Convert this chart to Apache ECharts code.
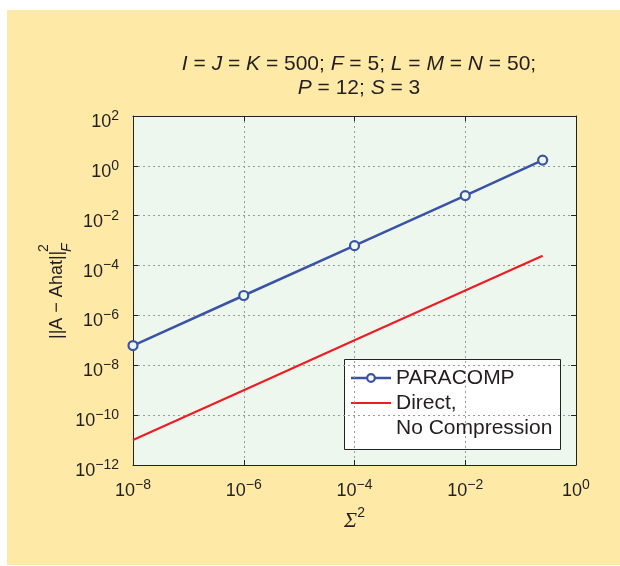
<!DOCTYPE html>
<html>
<head>
<meta charset="utf-8">
<script src="https://cdn.jsdelivr.net/npm/echarts@6/dist/echarts.min.js"></script>
<style>
  html, body { margin: 0; padding: 0; background: #ffffff; }
  #wrap { position: relative; width: 620px; height: 566px; }
  #panel { position: absolute; left: 7px; top: 10px; width: 613px; height: 555px; background: #ffe9a6; }
  #chart { position: absolute; left: 0; top: 0; width: 620px; height: 566px; }
</style>
</head>
<body>
<div id="wrap">
  <div id="panel"></div>
  <div id="chart"></div>
</div>
<script>
// Noise power Σ² (x) and squared Frobenius error of the estimated A (y)
const sigma2 = [1e-8, 1e-6, 1e-4, 1e-2, 0.25];
const paracompErr = [6.2e-8, 6.3e-6, 6.3e-4, 6.4e-2, 1.7];
const directErr = [1e-11, 1e-9, 1e-7, 1e-5, 2.5e-4];

// Decade exponents used for axis tick labels
const xTickExps = [-8, -6, -4, -2, 0];
const yTickExps = [-12, -10, -8, -6, -4, -2, 0, 2];

const seriesNames = ['PARACOMP', 'Direct,', 'No Compression'];

const BLUE = '#3a53a4';
const RED = '#ee1d25';
const FONT = '"Liberation Sans", Arial, Helvetica, sans-serif';
const INK = '#231f20';

function pow10Label(v) {
  const e = Math.round(Math.log10(v));
  const s = e < 0 ? '\u2212' + Math.abs(e) : String(e);
  return '{b|10}{s|' + s + '}';
}

const labelRich = {
  b: { fontSize: 18, lineHeight: 26, verticalAlign: 'middle', color: INK, fontFamily: FONT },
  s: { fontSize: 14, lineHeight: 14, verticalAlign: 'top', color: INK, fontFamily: FONT }
};

const gridLine = { show: true, lineStyle: { color: '#9a9a9a', type: [2, 3], width: 1 } };
const boxLine = { show: true, lineStyle: { color: '#222', width: 1 } };
const tick = { show: true, inside: true, length: 5, lineStyle: { color: '#222', width: 1 } };

const xMin = Math.pow(10, xTickExps[0]);
const xMax = Math.pow(10, xTickExps[xTickExps.length - 1]);
const yMin = Math.pow(10, yTickExps[0]);
const yMax = Math.pow(10, yTickExps[yTickExps.length - 1]);

const chart = echarts.init(document.getElementById('chart'), null, { renderer: 'canvas' });

const it = (t) => '{i|' + t + '}';
const titleText =
  it('I') + ' = ' + it('J') + ' = ' + it('K') + ' = 500; ' + it('F') + ' = 5; ' +
  it('L') + ' = ' + it('M') + ' = ' + it('N') + ' = 50;\n' +
  it('P') + ' = 12; ' + it('S') + ' = 3';

const option = {
  animation: false,
  title: {
    text: titleText,
    left: 354,
    top: 47,
    textAlign: 'center',
    textStyle: {
      fontFamily: FONT, fontSize: 21, fontWeight: 'normal', color: INK, lineHeight: 24,
      rich: { i: { fontFamily: FONT, fontSize: 21, fontStyle: 'italic', color: INK, lineHeight: 24 } }
    }
  },
  grid: {
    left: 133, right: 44, top: 116, bottom: 101,
    show: true, backgroundColor: '#edf7ee', borderWidth: 0
  },
  xAxis: [
    {
      type: 'log', min: xMin, max: xMax, interval: 2, position: 'bottom',
      axisLine: boxLine, axisTick: tick, splitLine: gridLine, minorTick: { show: false },
      axisLabel: { formatter: pow10Label, rich: labelRich, margin: 13 },
      name: '{s|\u03A3}{p|2}', nameLocation: 'middle', nameGap: 41,
      nameTextStyle: {
        rich: {
          s: { fontFamily: '"Liberation Serif", "DejaVu Serif", serif', fontStyle: 'italic', fontSize: 22, color: INK, lineHeight: 26, verticalAlign: 'bottom' },
          p: { fontFamily: FONT, fontSize: 14, color: INK, lineHeight: 20, verticalAlign: 'top' }
        }
      }
    },
    {
      type: 'log', min: xMin, max: xMax, interval: 2, position: 'top',
      axisLine: boxLine, axisTick: tick, splitLine: { show: false },
      axisLabel: { show: false }
    }
  ],
  yAxis: [
    {
      type: 'log', min: yMin, max: yMax, interval: 2, position: 'left',
      axisLine: boxLine, axisTick: tick, splitLine: gridLine,
      axisLabel: { formatter: pow10Label, rich: labelRich, margin: 14, padding: [12, 0, 0, 0] }
    },
    {
      type: 'log', min: yMin, max: yMax, interval: 2, position: 'right',
      axisLine: boxLine, axisTick: tick, splitLine: { show: false },
      axisLabel: { show: false }
    }
  ],
  series: [
    {
      name: seriesNames[0], type: 'line', xAxisIndex: 0, yAxisIndex: 0,
      data: sigma2.map((x, i) => [x, paracompErr[i]]),
      lineStyle: { color: BLUE, width: 2.5 },
      symbol: 'circle', symbolSize: 9,
      itemStyle: { color: '#edf7ee', borderColor: BLUE, borderWidth: 2.2 },
      z: 3
    },
    {
      name: seriesNames[1], type: 'line', xAxisIndex: 0, yAxisIndex: 0,
      data: sigma2.map((x, i) => [x, directErr[i]]),
      lineStyle: { color: RED, width: 2.2 },
      symbol: 'none',
      z: 2
    }
  ],
  graphic: [
    // y-axis title: ||A − Ahat||²_F, read bottom to top
    {
      type: 'group', x: 57, y: 290, rotation: Math.PI / 2,
      children: [
        { type: 'text', x: -49, y: 0, style: { text: '||A \u2212 Ahat||', font: '18px ' + FONT, fill: INK, verticalAlign: 'middle', align: 'left' } },
        { type: 'text', x: 38, y: -13, style: { text: '2', font: '14px ' + FONT, fill: INK, verticalAlign: 'middle', align: 'left' } },
        { type: 'text', x: 38, y: 10, style: { text: 'F', font: 'italic 14px ' + FONT, fill: INK, verticalAlign: 'middle', align: 'left' } }
      ]
    },
    // legend box
    {
      type: 'group', x: 344, y: 359, z: 10,
      children: [
        { type: 'rect', shape: { x: 0.5, y: 0.5, width: 216, height: 90 }, style: { fill: '#ffffff', stroke: '#222', lineWidth: 1 } },
        { type: 'line', shape: { x1: 7, y1: 19, x2: 47, y2: 19 }, style: { stroke: BLUE, lineWidth: 2.5 } },
        { type: 'circle', shape: { cx: 27, cy: 19, r: 3.8 }, style: { fill: '#ffffff', stroke: BLUE, lineWidth: 2.2 } },
        { type: 'text', x: 52, y: 19, style: { text: seriesNames[0], font: '21px ' + FONT, fill: INK, verticalAlign: 'middle' } },
        { type: 'line', shape: { x1: 7, y1: 44, x2: 47, y2: 44 }, style: { stroke: RED, lineWidth: 2.2 } },
        { type: 'text', x: 52, y: 44, style: { text: seriesNames[1], font: '21px ' + FONT, fill: INK, verticalAlign: 'middle' } },
        { type: 'text', x: 52, y: 69, style: { text: seriesNames[2], font: '21px ' + FONT, fill: INK, verticalAlign: 'middle' } }
      ]
    }
  ]
};

chart.setOption(option);
</script>
</body>
</html>
